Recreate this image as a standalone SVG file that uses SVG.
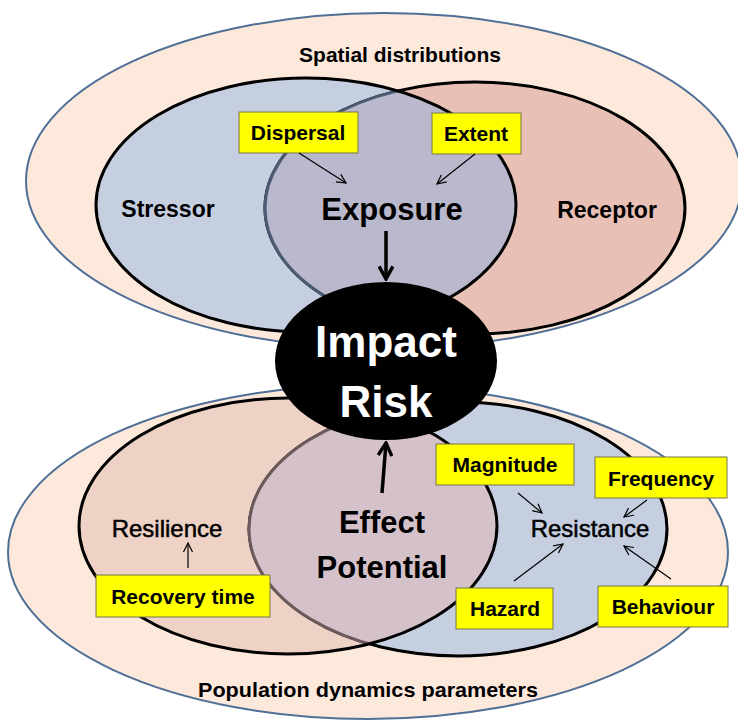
<svg xmlns="http://www.w3.org/2000/svg" width="738" height="720" viewBox="0 0 738 720">
<style>
.outer{fill:#fde9dc;stroke:#4f6f96;stroke-width:2}
.ring{fill:none;stroke:#000;stroke-width:3}
.box{fill:#ffff00;stroke:#77774a;stroke-width:1}
text{font-family:"Liberation Sans",Arial,sans-serif;font-weight:bold;text-anchor:middle;fill:#000}
.lbl{font-size:21px}
.big{font-size:31px}
.mid{font-size:23px}
.reg{font-size:24px;font-weight:normal;stroke:#000;stroke-width:0.5}
.thin{stroke:#000;stroke-width:1.2;fill:none}
.thick{stroke:#000;stroke-width:3.5;fill:none}
</style>
<defs>
<marker id="ah" markerUnits="userSpaceOnUse" markerWidth="12" markerHeight="12" refX="10" refY="5" viewBox="0 0 12 10" orient="auto"><path d="M1,0.5 L10,5 L1,9.5" fill="none" stroke="#000" stroke-width="1.2"/></marker>
<marker id="ahb" markerUnits="userSpaceOnUse" markerWidth="16" markerHeight="16" refX="12" refY="7" viewBox="0 0 14 14" orient="auto"><path d="M1,1 L12,7 L1,13" fill="none" stroke="#000" stroke-width="3"/></marker>
<clipPath id="cStress"><ellipse cx="306" cy="205" rx="210" ry="127"/></clipPath>
<clipPath id="cResil"><ellipse cx="288" cy="526" rx="209" ry="128"/></clipPath>
</defs>

<g id="spatial">
<ellipse class="outer" cx="384" cy="181" rx="358" ry="168"/>
<text class="lbl" x="400" y="62">Spatial distributions</text>
</g>

<g id="population">
<ellipse class="outer" cx="368" cy="552" rx="360" ry="167"/>
<text class="lbl" x="368" y="697" textLength="340" lengthAdjust="spacingAndGlyphs">Population dynamics parameters</text>
</g>

<g id="stressor">
<ellipse cx="306" cy="205" rx="210" ry="127" fill="#c6cfe0"/>
</g>
<g id="receptor">
<ellipse cx="475" cy="208" rx="210" ry="126" fill="#e9c0b5" stroke="#000" stroke-width="3"/>
<ellipse cx="475" cy="208" rx="210" ry="126" fill="#b9b8cc" stroke="#4a5b72" stroke-width="3" clip-path="url(#cStress)"/>
<text class="mid" x="607" y="218">Receptor</text>
</g>
<g id="stressor-outline">
<ellipse class="ring" cx="306" cy="205" rx="210" ry="127"/>
<text class="mid" x="168" y="217">Stressor</text>
</g>
<g id="exposure">
<text class="big" x="392" y="220">Exposure</text>
</g>

<g id="resilience">
<ellipse cx="288" cy="526" rx="209" ry="128" fill="#efd2c6"/>
</g>
<g id="resistance">
<ellipse cx="458" cy="529" rx="209" ry="127" fill="#c6cfe0" stroke="#000" stroke-width="3"/>
<ellipse cx="458" cy="529" rx="209" ry="127" fill="#d5c1c9" stroke="#6d5a5c" stroke-width="3" clip-path="url(#cResil)"/>
<text class="reg" x="590" y="537">Resistance</text>
</g>
<g id="resilience-outline">
<ellipse class="ring" cx="288" cy="526" rx="209" ry="128"/>
<text class="reg" x="167" y="537">Resilience</text>
</g>
<g id="effect-potential">
<text class="big" x="382" y="533">Effect</text>
<text class="big" x="382" y="578">Potential</text>
</g>

<g id="impact-risk">
<ellipse cx="386" cy="361" rx="111" ry="79" fill="#000"/>
<text x="386" y="357" font-size="44" style="fill:#fff">Impact</text>
<text x="386" y="417" font-size="44" style="fill:#fff">Risk</text>
</g>

<g id="dispersal"><rect class="box" x="239" y="112" width="119" height="41"/><text class="lbl" x="298" y="140">Dispersal</text></g>
<g id="extent"><rect class="box" x="432" y="113" width="89" height="41"/><text class="lbl" x="476" y="141">Extent</text></g>
<g id="magnitude"><rect class="box" x="436" y="444" width="138" height="41"/><text class="lbl" x="505" y="472">Magnitude</text></g>
<g id="frequency"><rect class="box" x="595" y="457" width="132" height="41"/><text class="lbl" x="661" y="486">Frequency</text></g>
<g id="recovery-time"><rect class="box" x="96" y="575" width="174" height="42"/><text class="lbl" x="183" y="604">Recovery time</text></g>
<g id="hazard"><rect class="box" x="456" y="588" width="97" height="41"/><text class="lbl" x="505" y="616">Hazard</text></g>
<g id="behaviour"><rect class="box" x="598" y="586" width="130" height="41"/><text class="lbl" x="663" y="614">Behaviour</text></g>

<g id="connectors">
<line class="thin" x1="299" y1="153" x2="346" y2="183" marker-end="url(#ah)"/>
<line class="thin" x1="475" y1="154" x2="437" y2="184" marker-end="url(#ah)"/>
<line class="thick" x1="386" y1="231" x2="386" y2="279" marker-end="url(#ahb)"/>
<line class="thick" x1="382" y1="493" x2="386" y2="443" marker-end="url(#ahb)"/>
<line class="thin" x1="188" y1="568" x2="188" y2="543" marker-end="url(#ah)"/>
<line class="thin" x1="518" y1="493" x2="542" y2="513" marker-end="url(#ah)"/>
<line class="thin" x1="647" y1="500" x2="624" y2="517" marker-end="url(#ah)"/>
<line class="thin" x1="514" y1="581" x2="563" y2="544" marker-end="url(#ah)"/>
<line class="thin" x1="671" y1="579" x2="624" y2="546" marker-end="url(#ah)"/>
</g>
</svg>
